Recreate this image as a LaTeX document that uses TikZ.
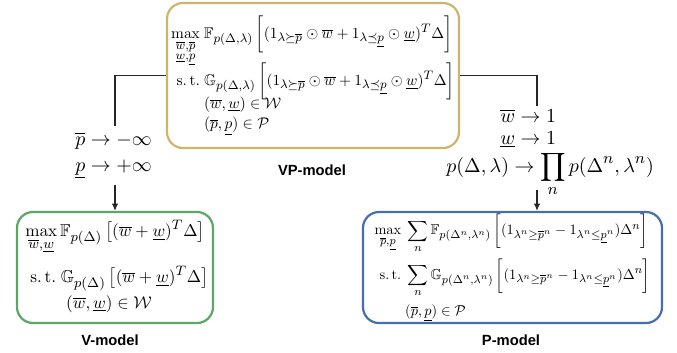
\documentclass[tikz,border=0pt]{standalone}
\usepackage{amsmath,amssymb,graphicx}
\usepackage[no-math]{fontspec}
\newfontfamily\labelfont{Liberation Sans}
\DeclareMathSizes{10}{10}{8}{6}
\usetikzlibrary{arrows.meta}
\definecolor{vpgold}{RGB}{207,180,108}
\definecolor{vgreen}{RGB}{90,168,100}
\definecolor{pblue}{RGB}{70,110,180}
\tikzset{
  modelbox/.style={draw, line width=1.1bp, rounded corners=8bp, inner sep=0pt, fill=white},
  conn/.style={line width=0.6bp, draw=black!85},
  arr/.style={conn, -{Latex[length=3.6bp,width=3.2bp]}},
  title/.style={font=\labelfont\bfseries\fontsize{7.4}{9}\selectfont},
  lbl/.style={inner sep=0pt, anchor=base west}
}
\begin{document}
\begin{tikzpicture}[x=0.5bp,y=-0.5bp]
\useasboundingbox (0,0) rectangle (677,352);

\node[modelbox, draw=vpgold, minimum width=146bp, minimum height=72.5bp] (VP) at (313,75.5)
{\scalebox{0.773}{$\displaystyle\begin{aligned}
\max_{\substack{\overline{w},\overline{p}\\ \underline{w},\underline{p}}} &\;\mathbb{F}_{p(\Delta,\lambda)}\,\bigg[(1_{\lambda\succeq\overline{p}}\odot\overline{w}+1_{\lambda\preceq\underline{p}}\odot\underline{w})^T\Delta\bigg]\\[-6pt]
\mathrm{s.\,t.} &\;\mathbb{G}_{p(\Delta,\lambda)}\,\bigg[(1_{\lambda\succeq\overline{p}}\odot\overline{w}+1_{\lambda\preceq\underline{p}}\odot\underline{w})^T\Delta\bigg]\\[-7pt]
&\;(\overline{w},\underline{w})\in\mathcal{W}\\[-2pt]
&\;(\overline{p},\underline{p})\in\mathcal{P}
\end{aligned}$}};

\node[modelbox, draw=vgreen, minimum width=98bp, minimum height=55.5bp] (V) at (115,267.5)
{\scalebox{0.86}{$\displaystyle\begin{gathered}
\max_{\overline{w},\underline{w}}\mathbb{F}_{p(\Delta)}\,\big[(\overline{w}+\underline{w})^T\Delta\big]\\[3.5pt]
\hspace{5pt}\mathrm{s.\,t.}\;\mathbb{G}_{p(\Delta)}\,\big[(\overline{w}+\underline{w})^T\Delta\big]\\[-2pt]
(\overline{w},\underline{w})\in\mathcal{W}\hspace{7pt}
\end{gathered}$}};

\node[modelbox, draw=pblue, minimum width=149.5bp, minimum height=55.5bp] (P) at (512.5,267.5)
{\scalebox{0.72}{$\displaystyle\begin{aligned}
\max_{\overline{p},\underline{p}} &\;\sum_n\mathbb{F}_{p(\Delta^n,\lambda^n)}\,\bigg[(1_{\lambda^n\geq\overline{p}^n}-1_{\lambda^n\leq\underline{p}^n})\Delta^n\bigg]\\
\mathrm{s.\,t.} &\;\sum_n\mathbb{G}_{p(\Delta^n,\lambda^n)}\,\bigg[(1_{\lambda^n\geq\overline{p}^n}-1_{\lambda^n\leq\underline{p}^n})\Delta^n\bigg]\\
&\;(\overline{p},\underline{p})\in\mathcal{P}
\end{aligned}$}};

\node[title] (tVP) at (312,170) {VP-model};
\node[title] (tV) at (110,340) {V-model};
\node[title] (tP) at (511,340) {P-model};

\node[lbl] (pbar) at (75,145) {$\overline{p}\to-\infty$};
\node[lbl] (punder) at (75,171) {$\underline{p}\to+\infty$};

\node[lbl] (wbar) at (500,122) {$\overline{w}\to1$};
\node[lbl] (wunder) at (500,144) {$\underline{w}\to1$};
\node[lbl] (prodl) at (446,172) {$\displaystyle p(\Delta,\lambda)\to\prod_n p(\Delta^n,\lambda^n)$};

\coordinate (ltop) at (115,126);
\coordinate (lbot) at (115,185);
\coordinate (rtop) at (537,106);
\coordinate (rbot) at (537,190);

\draw[conn] (VP.west) -| (ltop);
\draw[arr] (lbot) -- (V.north);
\draw[conn] (VP.east) -| (rtop);
\draw[arr] (rbot) -- (rbot |- P.north);
\end{tikzpicture}
\end{document}
